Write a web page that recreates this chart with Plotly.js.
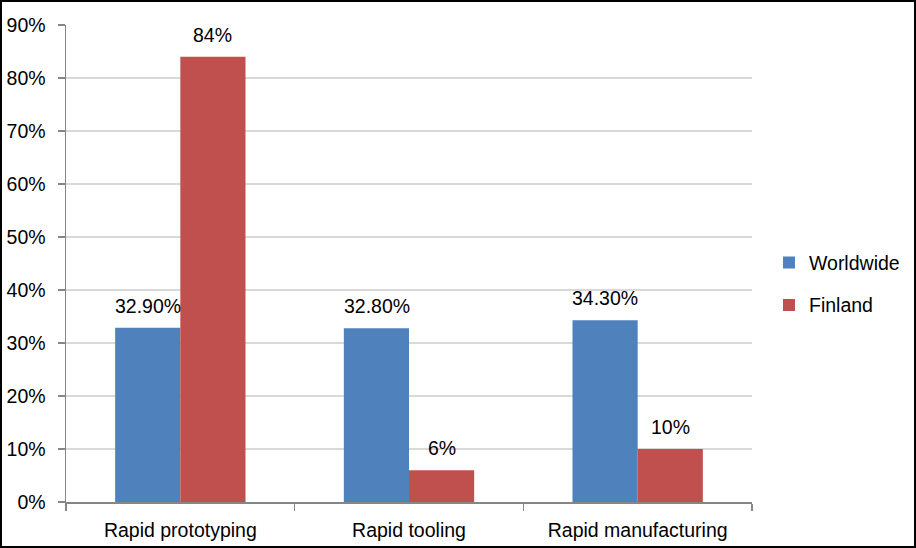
<!DOCTYPE html>
<html>
<head>
<meta charset="utf-8">
<script src="https://cdn.plot.ly/plotly-3.0.1.min.js"></script>
<style>
html,body{margin:0;padding:0;background:#fff;}
#wrap{position:relative;width:916px;height:548px;}
#chart{width:916px;height:548px;}
#frame{position:absolute;left:0;top:0;width:916px;height:548px;box-sizing:border-box;border:2px solid #000;pointer-events:none;}
</style>
</head>
<body>
<div id="wrap"><div id="chart"></div><div id="frame"></div></div>
<script>
const categories = ["Rapid prototyping", "Rapid tooling", "Rapid manufacturing"];
const worldwide = [32.9, 32.8, 34.3];
const finland = [84, 6, 10];
const worldwideLabels = ["32.90%", "32.80%", "34.30%"];
const finlandLabels = ["84%", "6%", "10%"];
const yTicks = [0, 10, 20, 30, 40, 50, 60, 70, 80, 90];

const FONT = "Liberation Sans, Arial, sans-serif";
const FS = 19.5;
const blue = "#4F81BD", red = "#C0504D";

const traces = [
  {type:"bar", name:"Worldwide", x:categories, y:worldwide, marker:{color:blue}, legendgroup:"a", hoverinfo:"skip"},
  {type:"bar", name:"Finland", x:categories, y:finland, marker:{color:red}, legendgroup:"b", hoverinfo:"skip"}
];

const annotations = [];
categories.forEach((c,i)=>{
  annotations.push({x:c, y:worldwide[i], xref:"x", yref:"y", text:worldwideLabels[i], showarrow:false, xshift:-32.5, yanchor:"bottom", yshift:9, font:{family:FONT,size:FS,color:"#000"}});
  annotations.push({x:c, y:finland[i], xref:"x", yref:"y", text:finlandLabels[i], showarrow:false, xshift:32.5, yanchor:"bottom", yshift:9, font:{family:FONT,size:FS,color:"#000"}});
});

const layout = {
  width:916, height:548,
  margin:{l:66, r:164, t:25, b:46, pad:0},
  paper_bgcolor:"#fff", plot_bgcolor:"#fff",
  font:{family:FONT, size:FS, color:"#000"},
  barmode:"group", bargap:0.43, bargroupgap:0,
  showlegend:true,
  legend:{xref:"container", yref:"container", x:0.8395, xanchor:"left", y:0.482, yanchor:"middle", traceorder:"grouped", tracegroupgap:14, font:{family:FONT,size:FS,color:"#000"}, itemwidth:30, bgcolor:"rgba(0,0,0,0)"},
  xaxis:{type:"category", showgrid:false, showline:true, linecolor:"#868686", linewidth:1.5, ticks:"outside", tickson:"boundaries", ticklen:7, tickcolor:"#868686", tickwidth:1.5, ticklabelstandoff:10, tickfont:{family:FONT,size:FS,color:"#000"}, zeroline:false, fixedrange:true},
  yaxis:{range:[0,90], tickvals:yTicks, ticktext:yTicks.map(v=>v+"%"), showgrid:true, gridcolor:"#D9D9D9", gridwidth:1.5, showline:true, linecolor:"#868686", linewidth:1.5, ticks:"outside", ticklen:7, tickcolor:"#868686", tickwidth:1.5, ticklabelstandoff:8, tickfont:{family:FONT,size:FS,color:"#000"}, zeroline:false, fixedrange:true},
  annotations:annotations
};

Plotly.newPlot("chart", traces, layout, {displayModeBar:false, staticPlot:true});
</script>
</body>
</html>
